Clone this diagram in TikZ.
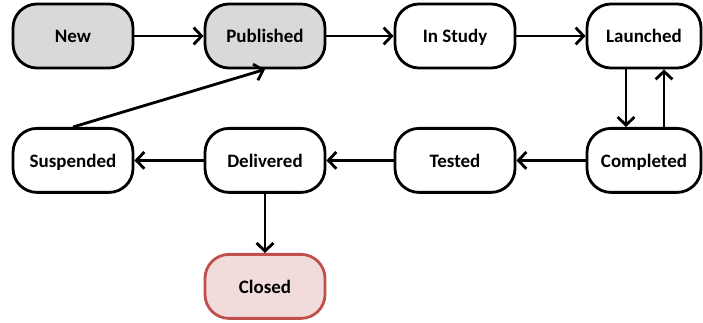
\documentclass[tikz,border=0pt]{standalone}
\usepackage{fontspec}
\setmainfont{Carlito}
\usepackage{tikz}
\usetikzlibrary{arrows.meta,calc}

\definecolor{boxgray}{HTML}{D9D9D9}
\definecolor{closedfill}{HTML}{F2DCDB}
\definecolor{closedline}{HTML}{C0504D}

\tikzset{
    state/.style={draw=black, line width=2pt, rounded corners=0.6cm, fill=white,
        minimum width=3cm, minimum height=1.6cm, align=center,
        text height=2.2ex, text depth=0.2ex,
        font=\fontsize{13.5}{16}\selectfont\bfseries},
    arr/.style={line width=2pt, -{Straight Barb[length=2mm,width=4.2mm]}}
}

\begin{document}
\begin{tikzpicture}
        \useasboundingbox (0,0) rectangle (17.575,8.05);
        % top row
        \node[state, fill=boxgray] (new) at (1.825,7.15) {New};
        \node[state, fill=boxgray] (published) at (6.625,7.15) {Published};
        \node[state] (instudy) at (11.375,7.15) {In Study};
        \node[state, minimum width=2.85cm] (launched) at (16.1,7.15) {Launched};
        % bottom row
        \node[state] (suspended) at (1.825,4.04) {Suspended};
        \node[state] (delivered) at (6.625,4.04) {Delivered};
        \node[state] (tested) at (11.375,4.04) {Tested};
        \node[state, minimum width=2.85cm] (completed) at (16.1,4.04) {Completed};
        \node[state, draw=closedline, fill=closedfill] (closed) at (6.625,0.89) {Closed};

        \draw[arr] (new) -- (published);
        \draw[arr] (published) -- (instudy);
        \draw[arr] (instudy) -- (launched);
        \draw[arr] ($(launched.south)+(-0.45,0)$) -- ($(completed.north)+(-0.45,0)$);
        \draw[arr] ($(completed.north)+(0.5,0)$) -- ($(launched.south)+(0.5,0)$);
        \draw[arr] (completed) -- (tested);
        \draw[arr] (tested) -- (delivered);
        \draw[arr] (delivered) -- (suspended);
        \draw[arr] (suspended.north) -- (published.south);
        \draw[arr] (delivered) -- (closed);
    \end{tikzpicture}
\end{document}
